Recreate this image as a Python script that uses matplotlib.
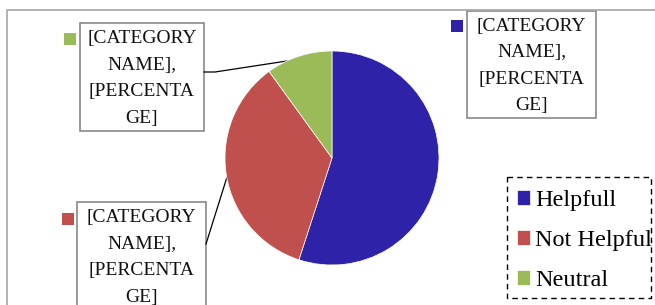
import matplotlib
matplotlib.use('Agg')
import matplotlib.pyplot as plt
from matplotlib.patches import Rectangle

# data
categories = ['Helpfull', 'Not Helpful', 'Neutral']
shares = [55, 35, 10]
colors = ['#2E22A8', '#C0504D', '#9BBB59']
label_text = '[CATEGORY\nNAME],\n[PERCENTA\nGE]'

plt.rcParams['font.family'] = ['Liberation Serif', 'DejaVu Serif']

fig = plt.figure(figsize=(6.55, 3.05), dpi=100)

# background axes in pixel coordinates (y down)
bg = fig.add_axes([0, 0, 1, 1])
bg.set_xlim(0, 655)
bg.set_ylim(305, 0)
bg.axis('off')

# chart area border
bg.plot([7, 7, 660], [320, 10, 10], color='#A6A6A6', lw=1.2, solid_capstyle='butt')

# data label boxes: (left, top, width, height), marker (x, y)
boxes = {
    'Helpfull': ((467, 11, 129, 107), (451, 20)),
    'Not Helpful': ((77, 202, 129, 108), (62, 213)),
    'Neutral': ((80, 23, 124, 108), (64, 33)),
}
for cat, col in zip(categories, colors):
    (x0, y0, w, h), (mx, my) = boxes[cat]
    bg.add_patch(Rectangle((x0, y0), w, h, facecolor='white', edgecolor='#7F7F7F', lw=1.1))
    bg.text(x0 + w / 2, y0 + h / 2 + 1.5, label_text, ha='center', va='center',
            fontsize=14, linespacing=1.72, color='#111111')
    bg.add_patch(Rectangle((mx, my), 12, 12, facecolor=col, edgecolor='none'))

# leader lines
bg.plot([204, 215, 300], [72, 72, 59], color='black', lw=0.9)
bg.plot([206, 227], [244, 177], color='black', lw=0.9)

# legend frame (dashed)
bg.add_patch(Rectangle((507, 177), 144, 121, facecolor='none', edgecolor='black',
                       lw=1.0, linestyle=(0, (4, 3))))

# pie
ax = fig.add_axes([225 / 655, (305 - 265) / 305, 214 / 655, 214 / 305])
wedges, _ = ax.pie(shares, colors=colors, startangle=90, counterclock=False,
                   wedgeprops=dict(edgecolor='white', linewidth=0.5))
ax.set_xlim(-1, 1)
ax.set_ylim(-1, 1)
ax.set_aspect('equal')

leg = ax.legend(wedges, categories, loc='upper left',
                bbox_to_anchor=(517 / 655, 1 - 190 / 305), bbox_transform=fig.transFigure,
                borderaxespad=0, borderpad=0, fontsize=17.5, frameon=False,
                handlelength=0.55, handleheight=0.55, handletextpad=0.2,
                labelspacing=0.78)

fig.savefig('out.png', dpi=100)
